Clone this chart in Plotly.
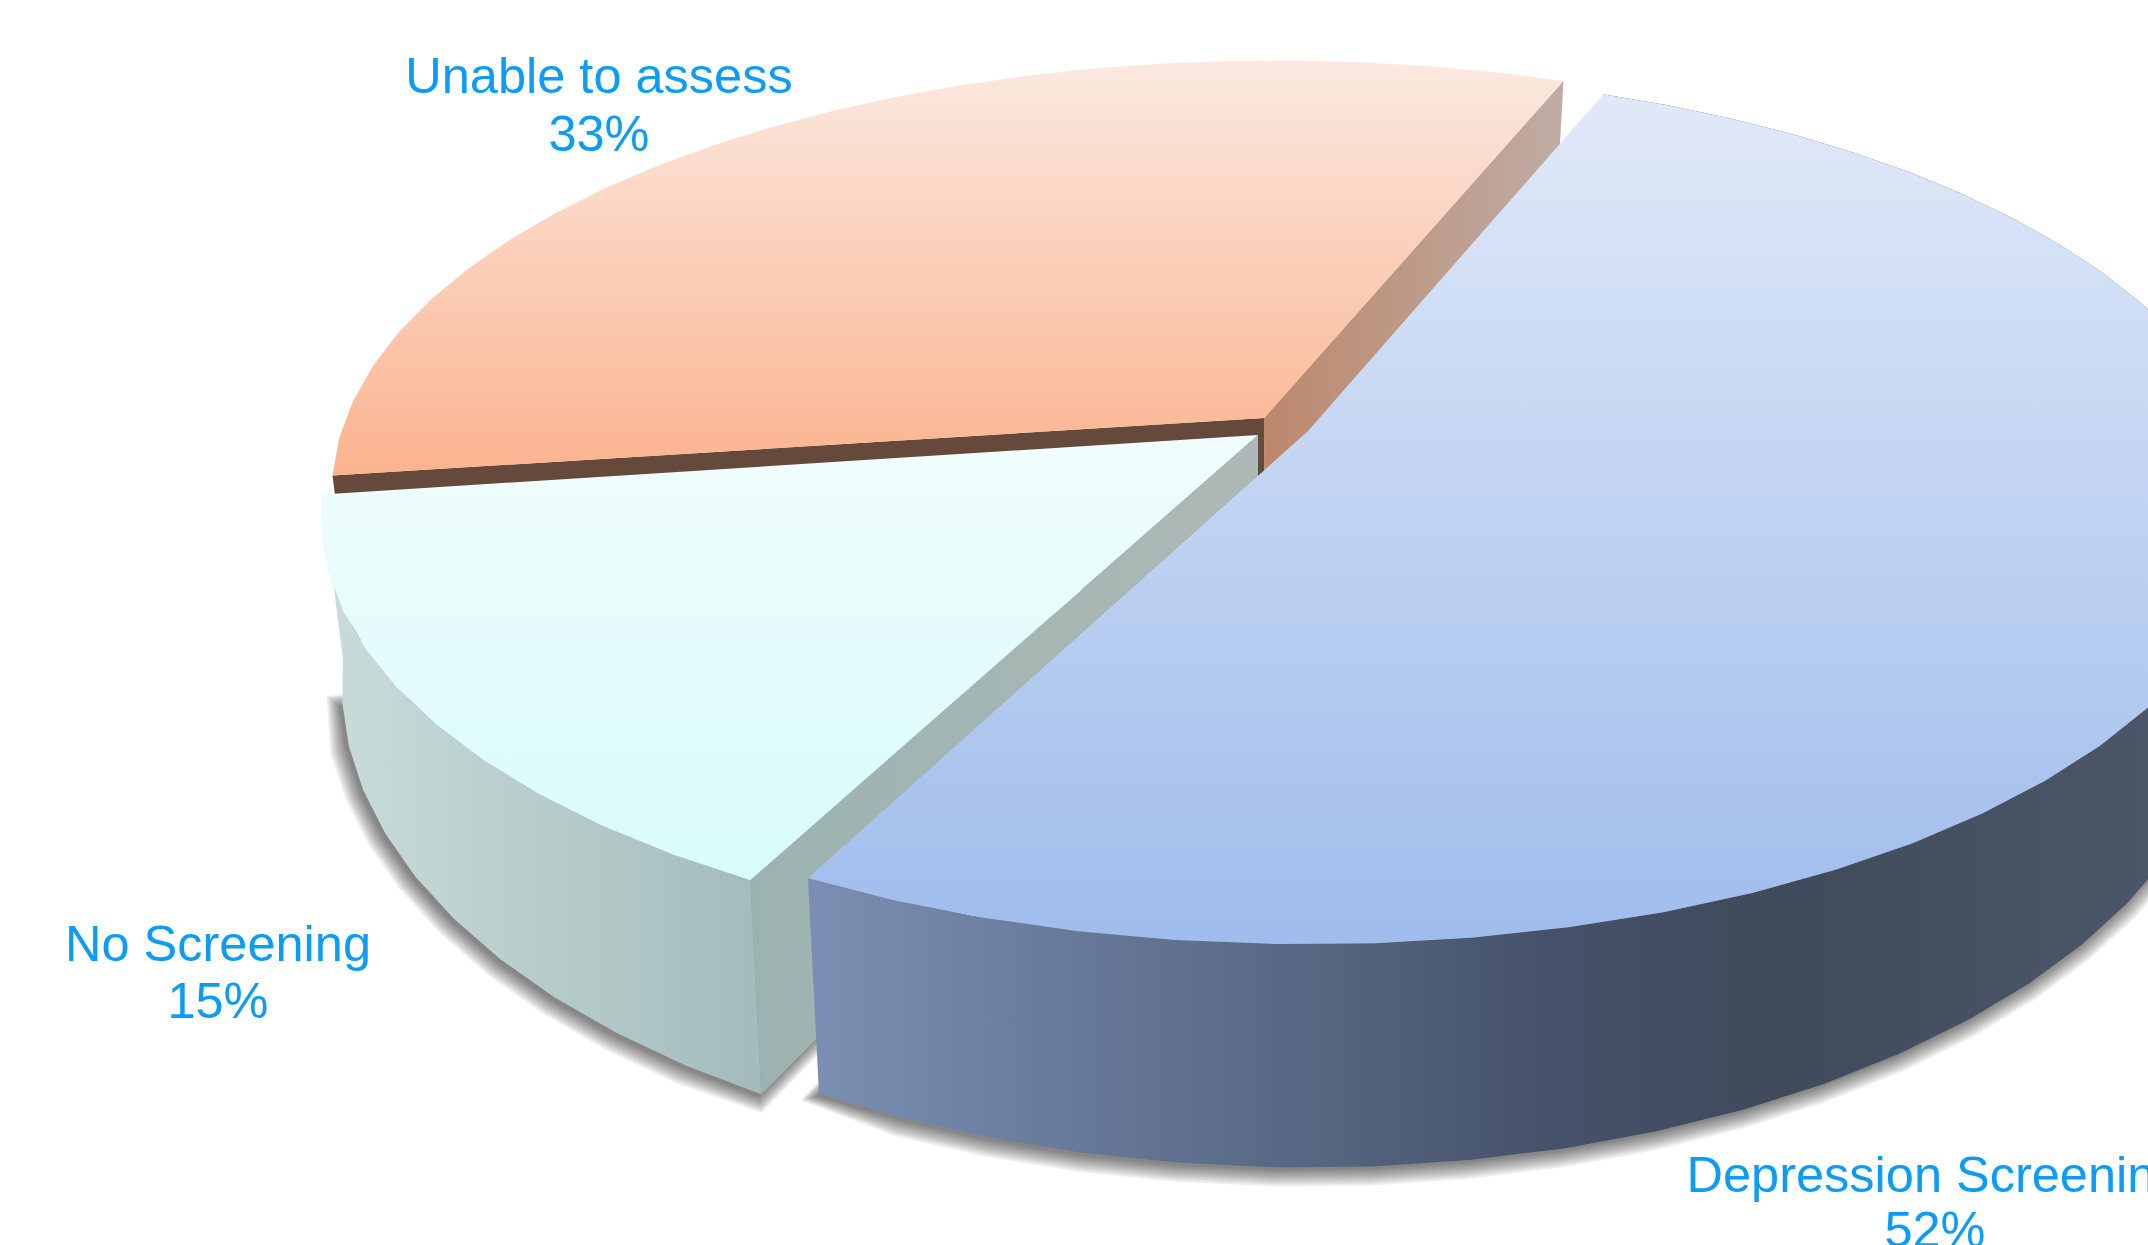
import math
import plotly.graph_objects as go

# Survey shares, in the order the slices run clockwise from the start angle
categories = ["Depression Screening", "No Screening", "Unable to assess"]
shares = [52, 15, 33]

WIDTH, HEIGHT = 2148, 1245
START_DEG = 20.0          # clockwise from the far side of the disc
TILT = 0.19               # perspective strength
RX, RY = 927.0, 416.0     # projected disc radii at the hub
DROP = 168.0              # pie thickness
SHRINK_X = 0.978          # lower rim is a little narrower than the upper rim
STRETCH_Y = 1.127         # and a little rounder
FACET_DEG = 5.0           # rim is built from straight facets
TEXT_BLUE = "#0d9cf5"

# Per-slice styling, keyed by category
# "faces" lists the visible straight cut faces: rim end index (0 or -1), gradient, x span
# "trim" pulls the rim ends in by a few degrees where the slice is pulled out of the pie
STYLE = {
    "Depression Screening": dict(
        hub=(1308, 425.5), apex=(1308, 431), rx=1.0, ry=1.01, trim=(2.0, 0.6),
        top=[(0, "#e0e9f8"), (1, "#9fbcec")],
        wall=[(0, "#7a8fb3"), (0.3, "#5e6f8c"), (0.55, "#46526a"), (0.72, "#3f4a5c"), (1, "#4b5668")],
        wall_span=(805, 2148), shadow_skip=0, faces=[],
        label=(1935, 1179), pct=(1935, 1234)),
    "Unable to assess": dict(
        hub=(1276, 410), apex=(1264, 418), rx=1.0, ry=1.0, trim=(0.0, -1.4),
        top=[(0, "#fbe9e1"), (1, "#fbb38f")],
        wall=None, wall_span=None, shadow_skip=None,
        faces=[(0, [(0, "#654a3c"), (1, "#654a3c")], (330, 1264)),
               (-1, [(0, "#bc886d"), (1, "#bfaca4")], (1264, 1562))],
        label=(599, 80), pct=(599, 138)),
    "No Screening": dict(
        hub=(1254, 435), apex=(1258, 435), rx=0.988, ry=1.0, trim=(0.0, -0.8),
        top=[(0, "#f0fdfc"), (1, "#d8fbfb")],
        wall=[(0, "#c9dbd9"), (1, "#a2bcbb")],
        wall_span=(340, 765), shadow_skip=1,
        faces=[(0, [(0, "#9bb3b0"), (1, "#aeb9b6")], (750, 1262))],
        label=(218, 948), pct=(218, 1005)),
}
DRAW_ORDER = ["Unable to assess", "No Screening", "Depression Screening"]


def rim_points(style, start, sweep):
    """Project the faceted disc rim of one slice (angles clockwise from far side)."""
    hub = style["hub"]
    t0, t1 = (math.radians(t) for t in style["trim"])
    start, sweep = start + t0, sweep - t0 - t1
    n = max(2, round(math.degrees(sweep) / FACET_DEG))
    pts = []
    for i in range(n + 1):
        theta = start + sweep * i / n
        x, y = math.sin(theta), math.cos(theta)
        w = 1 + TILT * y
        pts.append((hub[0] + RX * style["rx"] * x / w, hub[1] - RY * style["ry"] * y / w))
    return pts


def lower(pt, hub):
    """Drop a top-face point to the bottom face of the pie."""
    cx, cy = hub[0], hub[1] + 82
    return cx + (pt[0] - cx) * SHRINK_X, cy + (pt[1] - cy) * STRETCH_Y + DROP


def grow(points, r):
    """Offset a closed polygon outward by r along its vertex normals."""
    n = len(points)
    area = sum(points[i][0] * points[(i + 1) % n][1] - points[(i + 1) % n][0] * points[i][1]
               for i in range(n))
    sign = 1 if area > 0 else -1
    out = []
    for i in range(n):
        px, py = points[i - 1]
        qx, qy = points[i]
        sx, sy = points[(i + 1) % n]
        e1 = (qx - px, qy - py)
        e2 = (sx - qx, sy - qy)
        l1 = math.hypot(*e1) or 1
        l2 = math.hypot(*e2) or 1
        nx = sign * (e1[1] / l1 + e2[1] / l2)
        ny = sign * (-e1[0] / l1 - e2[0] / l2)
        ln = math.hypot(nx, ny) or 1
        out.append((qx + r * nx / ln, qy + r * ny / ln))
    return out


def gradient(kind, stops, span):
    return dict(type=kind, colorscale=stops, start=span[0], stop=span[1])


def poly(points, **kw):
    xs = [p[0] for p in points]
    ys = [p[1] for p in points]
    return go.Scatter(x=xs, y=ys, mode="lines", fill="toself", line=dict(width=0),
                      hoverinfo="skip", showlegend=False, **kw)


# Turn the shares into angular extents
total = sum(shares)
geometry = {}
angle = math.radians(START_DEG)
for name, value in zip(categories, shares):
    sweep = 2 * math.pi * value / total
    geometry[name] = (angle, sweep)
    angle += sweep

fig = go.Figure()

# Soft drop shadow under the pie: stacked translucent outlines
for name in DRAW_ORDER:
    st = STYLE[name]
    if st["shadow_skip"] is None:
        continue
    a0, sw = geometry[name]
    rim = rim_points(st, a0, sw)
    rim = rim[:len(rim) - st["shadow_skip"]]
    base = [lower(p, st["hub"]) for p in rim + [st["apex"]]]
    for r in range(16, -2, -2):
        fig.add_trace(poly([(px - 3, py + 3) for px, py in grow(base, r)],
                           fillcolor="rgba(0,0,0,0.065)"))

# Back to front: orange, cyan, blue
for name in DRAW_ORDER:
    st = STYLE[name]
    a0, sw = geometry[name]
    hub, apex = st["hub"], st["apex"]
    rim = rim_points(st, a0, sw)
    apex_low = lower(apex, hub)

    # Straight cut faces that can be seen from this viewpoint
    for end, stops, span in st["faces"]:
        edge = rim[end]
        fig.add_trace(poly([apex, edge, lower(edge, hub), apex_low],
                           fillgradient=gradient("horizontal", stops, span)))

    # Curved outer wall, only on the slices facing the viewer
    if st["wall"]:
        fig.add_trace(poly(rim + [lower(p, hub) for p in reversed(rim)],
                           fillgradient=gradient("horizontal", st["wall"], st["wall_span"])))

    # Top face
    ys = [p[1] for p in rim] + [apex[1]]
    fig.add_trace(poly(rim + [apex],
                       fillgradient=gradient("vertical", st["top"], (min(ys), max(ys)))))

# Labels: category name with its share underneath
for name, value in zip(categories, shares):
    st = STYLE[name]
    for pos, text in ((st["label"], name), (st["pct"], f"{value}%")):
        fig.add_trace(go.Scatter(x=[pos[0]], y=[pos[1]], mode="text", text=[text],
                                 textposition="middle center",
                                 textfont=dict(family="Liberation Sans", size=50.5, color=TEXT_BLUE),
                                 hoverinfo="skip", showlegend=False))

fig.update_layout(
    width=WIDTH, height=HEIGHT, margin=dict(l=0, r=0, t=0, b=0),
    paper_bgcolor="white", plot_bgcolor="white",
    xaxis=dict(range=[0, WIDTH], visible=False, fixedrange=True),
    yaxis=dict(range=[HEIGHT, 0], visible=False, fixedrange=True),
)
fig.write_html("out.html", config=dict(displayModeBar=False))
